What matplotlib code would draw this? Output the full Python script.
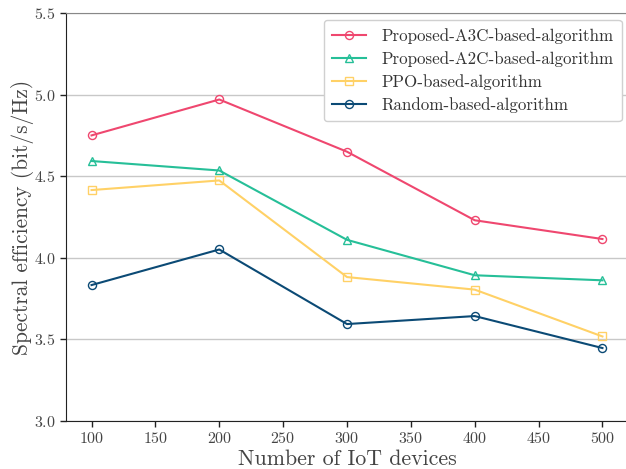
import matplotlib
matplotlib.use("Agg")
import matplotlib.pyplot as plt

plt.rcParams["font.family"] = ["cmr10", "DejaVu Serif"]
plt.rcParams["mathtext.fontset"] = "cm"
plt.rcParams["axes.formatter.use_mathtext"] = True

devices = [100, 200, 300, 400, 500]
a3c = [4.75, 4.97, 4.65, 4.23, 4.115]
a2c = [4.593, 4.535, 4.11, 3.893, 3.862]
ppo = [4.415, 4.474, 3.882, 3.805, 3.518]
rnd = [3.833, 4.051, 3.594, 3.643, 3.447]

labels = ["Proposed-A3C-based-algorithm", "Proposed-A2C-based-algorithm",
          "PPO-based-algorithm", "Random-based-algorithm"]
colors = ["#EF476F", "#26BF98", "#FFD166", "#0B4A75"]
markers = ["o", "^", "s", "o"]

fig = plt.figure(figsize=(6.26, 4.69), dpi=100)
ax = fig.add_axes([66 / 626, 48 / 469, 562 / 626, 408 / 469])

for ys, lab, c, m in zip([a3c, a2c, ppo, rnd], labels, colors, markers):
    ax.plot(devices, ys, color=c, marker=m, markersize=5.8, markerfacecolor="none",
            markeredgewidth=1.0, linewidth=1.5, label=lab)

ax.set_xlim(80, 520)
ax.set_ylim(3.0, 5.5)
ax.set_xticks([100, 150, 200, 250, 300, 350, 400, 450, 500])
ax.set_yticks([3.0, 3.5, 4.0, 4.5, 5.0, 5.5])
ax.yaxis.grid(True, color="#c8c8c8", linewidth=1.0)
ax.set_axisbelow(True)

ax.spines["right"].set_visible(False)
ax.spines["top"].set_color("#888888")
ax.spines["left"].set_color("#222222")
ax.spines["bottom"].set_color("#222222")
ax.tick_params(axis="both", labelsize=11.5, colors="#222222", labelcolor="#444444",
               length=4, width=1)

ax.set_xlabel("Number of IoT devices", fontsize=15.8, color="#444444", labelpad=2)
ax.set_ylabel("Spectral efficiency (bit/s/Hz)", fontsize=15.4, color="#444444", labelpad=0)

leg = ax.legend(loc="upper right", bbox_to_anchor=(0.989, 0.983), borderaxespad=0,
                fontsize=12.2, frameon=True, fancybox=True, edgecolor="#d0d0d0",
                framealpha=1.0, handlelength=2.0, handletextpad=0.9,
                borderpad=0.5, labelspacing=0.42)
for t in leg.get_texts():
    t.set_color("#333333")

fig.savefig("out.png", dpi=100)
